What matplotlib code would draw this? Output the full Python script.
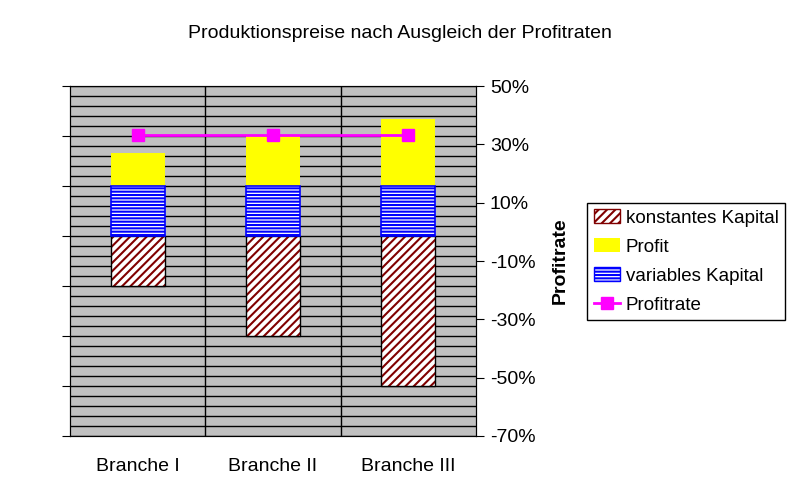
import matplotlib
matplotlib.use("Agg")
import matplotlib.pyplot as plt
from matplotlib.ticker import MultipleLocator, FixedLocator
from matplotlib.patches import Patch
from matplotlib.lines import Line2D
import numpy as np

plt.rcParams['font.family'] = ['Liberation Sans', 'DejaVu Sans']
plt.rcParams['hatch.linewidth'] = 1.5

categories = ['Branche I', 'Branche II', 'Branche III']
konstantes = [50, 100, 150]   # drawn below zero
variables = [50, 50, 50]
profit = [33.3, 50, 66.7]
profitrate = [33.3, 33.3, 33.3]   # percent
rate_ticks = [-70, -50, -30, -10, 10, 30, 50]

x = np.arange(len(categories))
neg_k = [-k for k in konstantes]

fig = plt.figure(figsize=(8, 4.98), dpi=100)
ax = fig.add_axes([0.0875, 0.1245, 0.5075, 0.7028])
ax.set_facecolor('#C0C0C0')

w = 0.4
# konstantes Kapital (hatched, below zero)
ax.bar(x, neg_k, w, color='white', edgecolor='#800000', hatch='////', linewidth=0, zorder=2)
ax.bar(x, neg_k, w, fill=False, edgecolor='black', linewidth=1, zorder=3)
# variables Kapital
ax.bar(x, variables, w, color='white', edgecolor='#0000FF', hatch='-----', linewidth=0, zorder=2)
ax.bar(x, variables, w, fill=False, edgecolor='#0000FF', linewidth=1.2, zorder=3)
# Profit on top
ax.bar(x, profit, w, bottom=variables, color='#FFFF00', linewidth=0, zorder=2)

ax.set_xlim(-0.5, 2.5)
ax.set_ylim(-200, 150)
ax.yaxis.set_major_locator(MultipleLocator(50))
ax.yaxis.set_minor_locator(MultipleLocator(10))
ax.set_yticklabels([])
ax.tick_params(axis='y', which='major', direction='out', length=6, color='black')
ax.tick_params(axis='y', which='minor', length=0)
ax.set_xticks(x)
ax.set_xticklabels(categories, fontsize=14)
ax.xaxis.set_minor_locator(FixedLocator([0.5, 1.5]))
ax.tick_params(axis='x', which='both', length=0, pad=16)
ax.grid(which='both', axis='y', color='black', linewidth=1)
ax.grid(which='minor', axis='x', color='black', linewidth=1)
ax.set_axisbelow(True)
for s in ['top', 'bottom']:
    ax.spines[s].set_color('#404040')

# Profitrate on the right axis
ax2 = ax.twinx()
ax2.plot(x, profitrate, color='#FF00FF', linewidth=2, marker='s', markersize=8.5,
         label='Profitrate', zorder=5)
ax2.set_ylim(-70, 50)
ax2.set_yticks(rate_ticks)
ax2.set_yticklabels([f'{t}%' for t in rate_ticks], fontsize=14)
ax2.tick_params(axis='y', direction='out', length=6, pad=4)
ax2.set_ylabel('Profitrate', fontsize=14, fontweight='bold', labelpad=12)

fig.suptitle('Produktionspreise nach Ausgleich der Profitraten', fontsize=14, y=0.95)

# legend
handles = [
    Patch(facecolor='white', edgecolor='#800000', hatch='////', label='konstantes Kapital'),
    Patch(facecolor='#FFFF00', edgecolor='none', label='Profit'),
    Patch(facecolor='white', edgecolor='#0000FF', hatch='-----', label='variables Kapital'),
    Line2D([], [], color='#FF00FF', linewidth=2, marker='s', markersize=8.5, label='Profitrate'),
]
leg = ax2.legend(handles=handles, loc='upper left', bbox_to_anchor=(0.734, 0.593),
                 bbox_transform=fig.transFigure, fontsize=13.5, fancybox=False,
                 framealpha=1, edgecolor='black', borderaxespad=0, handlelength=1.4,
                 handleheight=0.75, handletextpad=0.3, labelspacing=0.62,
                 borderpad=0.35)
leg.get_frame().set_linewidth(1)

fig.savefig('out.png', dpi=100)
